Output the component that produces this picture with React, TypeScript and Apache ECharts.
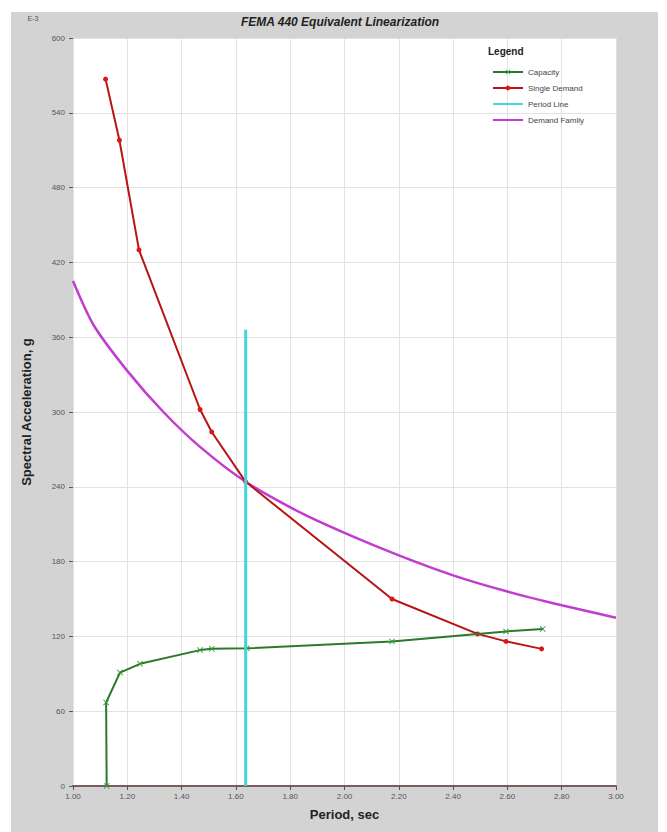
import React, { useEffect, useRef } from "react";
import * as echarts from "echarts";

// ---- data ----
const capacityPeriod = [1.124, 1.122, 1.173, 1.247, 1.468, 1.511, 1.64, 2.175, 2.595, 2.73];
const capacitySa = [0, 67, 91, 98, 109, 110, 110.4, 116, 124, 126];

const demandPeriod = [1.12, 1.171, 1.243, 1.468, 1.511, 1.636, 2.175, 2.49, 2.595, 2.726];
const demandSa = [567, 518, 430, 302, 284, 244, 150, 122, 116, 110];

const periodLinePeriod = [1.636, 1.636];
const periodLineSa = [0, 366];

const familyPeriod = [1.0, 1.075, 1.2, 1.333, 1.468, 1.636, 1.84, 2.0, 2.2, 2.4, 2.6, 2.8, 3.0];
const familySa = [405, 370, 333, 300, 272, 244, 219, 203, 185, 169, 156, 145, 135];

const xTickLabels = ["1.00", "1.20", "1.40", "1.60", "1.80", "2.00", "2.20", "2.40", "2.60", "2.80", "3.00"];
const yTickLabels = ["0", "60", "120", "180", "240", "300", "360", "420", "480", "540", "600"];

const zip = (a: number[], b: number[]) => a.map((v, i) => [v, b[i]]);

const FONT = "'Liberation Sans', Arial, sans-serif";
const X_MARK = "path://M0,1L1,0L5,4L9,0L10,1L6,5L10,9L9,10L5,6L1,10L0,9L4,5Z";

export default function App() {
  const ref = useRef<HTMLDivElement>(null);
  useEffect(() => {
    if (!ref.current) return;
    const chart = echarts.init(ref.current, undefined, { renderer: "svg" });
    chart.setOption({
      animation: false,
      backgroundColor: "#d3d3d3",
      graphic: [
        { type: "rect", shape: { x: 0, y: 0, width: 667, height: 12 }, style: { fill: "#ffffff" }, silent: true },
        { type: "rect", shape: { x: 0, y: 0, width: 11, height: 832 }, style: { fill: "#ffffff" }, silent: true },
        { type: "rect", shape: { x: 658, y: 0, width: 9, height: 832 }, style: { fill: "#ffffff" }, silent: true },
        {
          type: "text",
          x: 340,
          y: 22,
          style: {
            text: "FEMA 440 Equivalent Linearization",
            fontFamily: FONT,
            fontSize: 12,
            fontWeight: "bold",
            fontStyle: "italic",
            fill: "#222",
            textAlign: "center",
            textVerticalAlign: "middle",
          },
        },
        {
          type: "text",
          x: 33,
          y: 18,
          style: { text: "E-3", fontFamily: FONT, fontSize: 7, fill: "#555", textAlign: "center", textVerticalAlign: "middle" },
        },
        {
          type: "text",
          x: 488,
          y: 51,
          z: 100,
          style: { text: "Legend", fontFamily: FONT, fontSize: 10, fontWeight: "bold", fill: "#222", textVerticalAlign: "middle" },
        },
      ],
      grid: {
        left: 73,
        top: 38,
        width: 543,
        height: 748,
        show: true,
        backgroundColor: "#ffffff",
        borderWidth: 0,
      },
      legend: {
        orient: "vertical",
        left: 487,
        top: 62,
        padding: 5,
        itemWidth: 30,
        itemHeight: 6,
        itemGap: 6,
        textStyle: { fontFamily: FONT, fontSize: 8, color: "#444", lineHeight: 10 },
        data: [
          { name: "Capacity" },
          { name: "Single Demand" },
          { name: "Period Line", itemStyle: { opacity: 0 } },
          { name: "Demand Family", itemStyle: { opacity: 0 } },
        ],
      },
      xAxis: {
        type: "value",
        min: 1,
        max: 3,
        interval: 0.2,
        name: "Period, sec",
        nameLocation: "middle",
        nameGap: 22,
        nameTextStyle: { fontFamily: FONT, fontSize: 13, fontWeight: "bold", color: "#222" },
        axisLine: { show: true, onZero: false, lineStyle: { color: "#7a5c5c", width: 2 } },
        axisTick: { show: true, length: 4, lineStyle: { color: "#555" } },
        axisLabel: {
          fontFamily: FONT,
          fontSize: 8,
          color: "#555",
          margin: 6,
          formatter: (v: number) => xTickLabels[Math.round((v - 1) / 0.2)] ?? v.toFixed(2),
        },
        splitLine: { show: true, lineStyle: { color: "#e2e2e2", width: 1 } },
      },
      yAxis: {
        type: "value",
        min: 0,
        max: 600,
        interval: 60,
        name: "Spectral Acceleration, g",
        nameLocation: "middle",
        nameGap: 40,
        nameTextStyle: { fontFamily: FONT, fontSize: 13, fontWeight: "bold", color: "#222" },
        axisLine: { show: false },
        axisTick: { show: true, length: 4, lineStyle: { color: "#555" } },
        axisLabel: {
          fontFamily: FONT,
          fontSize: 8,
          color: "#555",
          margin: 8,
          formatter: (v: number) => yTickLabels[Math.round(v / 60)] ?? String(v),
        },
        splitLine: { show: true, lineStyle: { color: "#e2e2e2", width: 1 } },
      },
      series: [
        {
          name: "Demand Family",
          type: "line",
          data: zip(familyPeriod, familySa),
          showSymbol: false,
          symbol: "none",
          smooth: 0.25,
          lineStyle: { color: "#c23ccf", width: 2.5 },
          itemStyle: { color: "#c23ccf" },
          z: 2,
        },
        {
          name: "Single Demand",
          type: "line",
          data: zip(demandPeriod, demandSa),
          symbol: "circle",
          symbolSize: 5,
          lineStyle: { color: "#b81414", width: 2 },
          itemStyle: { color: "#dd1515" },
          z: 3,
        },
        {
          name: "Capacity",
          type: "line",
          data: zip(capacityPeriod, capacitySa),
          symbol: X_MARK,
          symbolSize: 6,
          lineStyle: { color: "#2b7a2b", width: 2 },
          itemStyle: { color: "#2f9a2f" },
          z: 4,
        },
        {
          name: "Period Line",
          type: "line",
          data: zip(periodLinePeriod, periodLineSa),
          symbol: "none",
          lineStyle: { color: "#3fd6dc", width: 3 },
          itemStyle: { color: "#3fd6dc" },
          z: 5,
        },
      ],
    });
    return () => chart.dispose();
  }, []);
  return (
    <div
      ref={ref}
      style={{ position: "absolute", left: 0, top: 0, width: 667, height: 832 }}
    />
  );
}
